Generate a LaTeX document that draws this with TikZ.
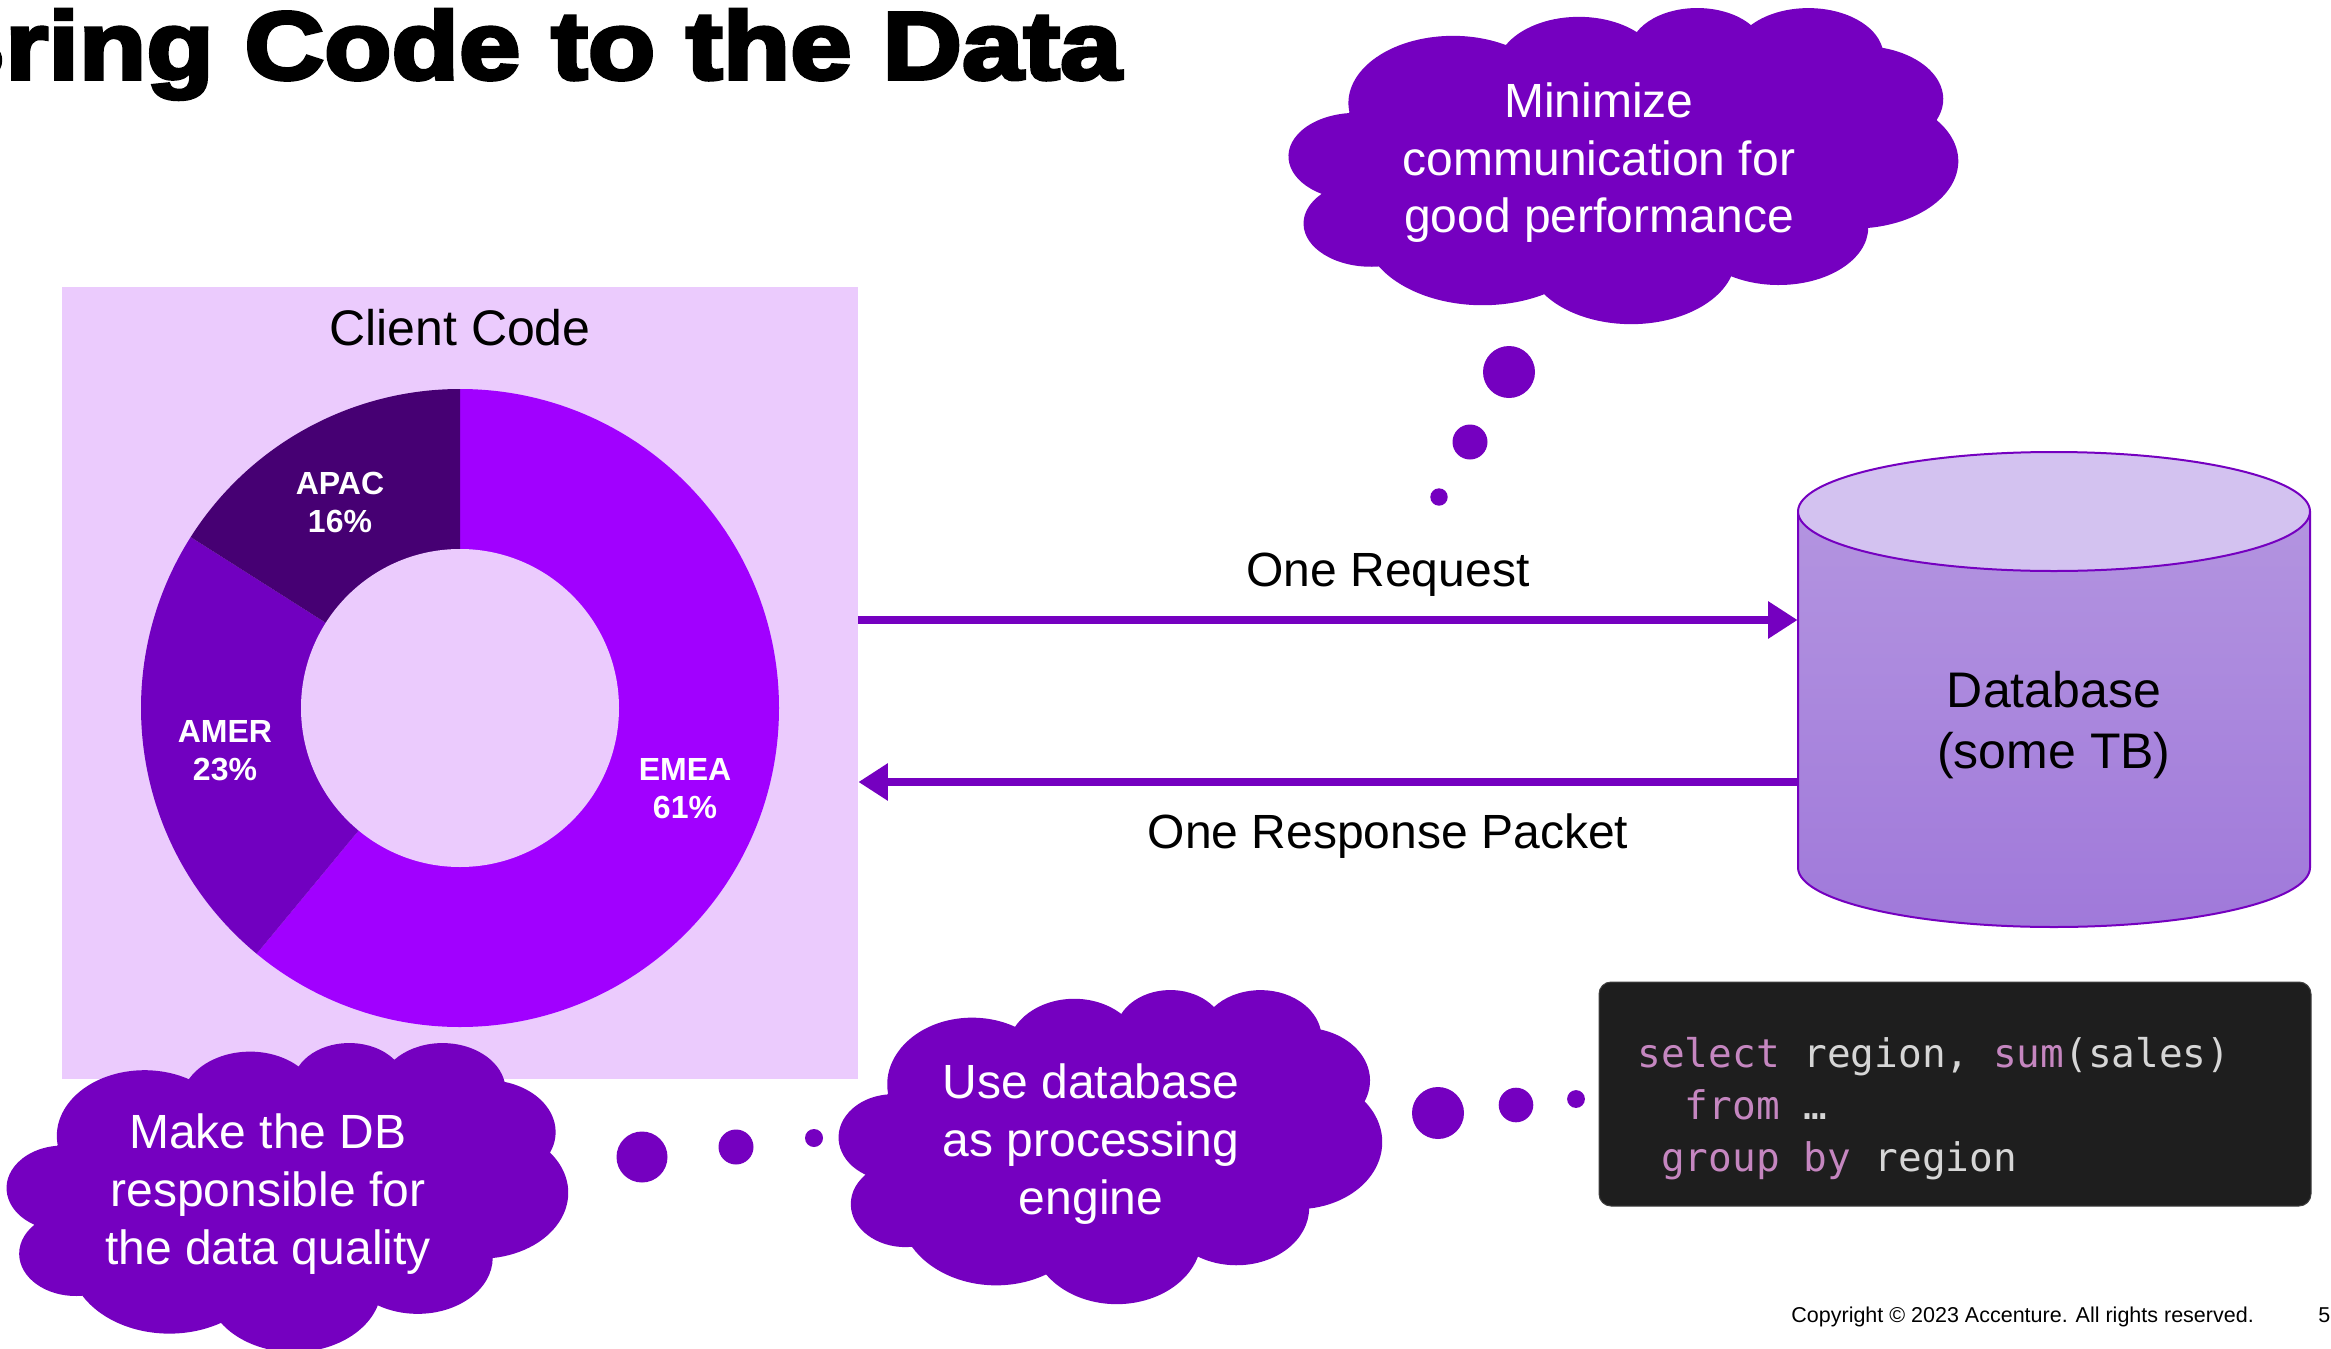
\documentclass[tikz,border=0pt]{standalone}
\usepackage{fontspec}
\setmainfont{Liberation Sans}
\newfontfamily\titlefont{Liberation Sans Bold}[FakeBold=4,FakeStretch=1.15]
\newfontfamily\codefont{DejaVu Sans Mono}
\usetikzlibrary{arrows.meta}
\definecolor{cloudcol}{HTML}{7500C0}
\definecolor{emea}{HTML}{A100FF}
\definecolor{amer}{HTML}{7100C0}
\definecolor{apac}{HTML}{460073}
\definecolor{boxbg}{HTML}{EBCBFD}
\definecolor{cyltop}{HTML}{D3C2F0}
\definecolor{cylhi}{HTML}{B394E0}
\definecolor{cyllo}{HTML}{A079DA}
\definecolor{codebg}{HTML}{1E1E1E}
\definecolor{codekw}{HTML}{C586C0}
\definecolor{codeplain}{HTML}{D6D6D6}
% PowerPoint cloud preset, arcs in a 43.2 x 43.2 grid (visual angles -> parametric)
\newcommand\defarc[5]{%
  \expandafter\pgfmathsetmacro\csname clT#1\endcsname{atan2(#2*sin(#4),#3*cos(#4))}%
  \expandafter\pgfmathsetmacro\csname clD#1\endcsname{mod(atan2(#2*sin(#5),#3*cos(#5))-\csname clT#1\endcsname+720,360)}}
\defarc{a}{6.753}{9.19}{-190.48749}{-66.70696}
\defarc{b}{5.333}{7.267}{-144.10238}{-54.15715}
\defarc{c}{4.365}{5.945}{-145.80792}{-46.0849}
\defarc{d}{4.857}{6.595}{-130.98607}{-13.74434}
\defarc{e}{5.333}{7.273}{-78.70888}{30.31804}
\defarc{f}{6.775}{9.22}{-46.26725}{84.00175}
\defarc{g}{5.785}{7.867}{0.62502}{114.65835}
\defarc{h}{6.752}{9.215}{22.4516}{137.62415}
\defarc{i}{7.72}{10.543}{66.24263}{141.95365}
\defarc{j}{4.36}{5.918}{-274.94208}{-128.20651}
\defarc{k}{4.345}{5.945}{-246.8285}{-94.30965}
\newcommand\drawcloud[4]{%
  \begin{scope}[shift={(#1,#2)},xscale=#3/43.2,yscale=#4/43.2]
    \fill[cloudcol] (3.9,14.37)
      arc[x radius=6.753,y radius=9.19,start angle=\clTa,delta angle=\clDa]
      arc[x radius=5.333,y radius=7.267,start angle=\clTb,delta angle=\clDb]
      arc[x radius=4.365,y radius=5.945,start angle=\clTc,delta angle=\clDc]
      arc[x radius=4.857,y radius=6.595,start angle=\clTd,delta angle=\clDd]
      arc[x radius=5.333,y radius=7.273,start angle=\clTe,delta angle=\clDe]
      arc[x radius=6.775,y radius=9.22,start angle=\clTf,delta angle=\clDf]
      arc[x radius=5.785,y radius=7.867,start angle=\clTg,delta angle=\clDg]
      arc[x radius=6.752,y radius=9.215,start angle=\clTh,delta angle=\clDh]
      arc[x radius=7.72,y radius=10.543,start angle=\clTi,delta angle=\clDi]
      arc[x radius=4.36,y radius=5.918,start angle=\clTj,delta angle=\clDj]
      arc[x radius=4.345,y radius=5.945,start angle=\clTk,delta angle=\clDk]
      -- cycle;
  \end{scope}}
\newcommand\mlines[1]{\begin{tabular}[t]{@{}c@{}}#1\end{tabular}}
\newcommand\kw[1]{\textcolor{codekw}{#1}}
\begin{document}
\begin{tikzpicture}[x=0.5pt,y=-0.5pt,
  cloudtext/.style={text=white,font=\fontsize{24}{29}\selectfont,anchor=base,inner sep=0},
  lbl/.style={text=black,font=\fontsize{24}{29}\selectfont,anchor=base,inner sep=0},
  pielabel/.style={text=white,font=\bfseries\fontsize{16}{19}\selectfont,anchor=base,inner sep=0},
  flow/.style={draw=cloudcol,line width=4.35pt,-{Triangle[length=14.7pt,width=17.7pt]}},
  dot/.style={fill=cloudcol}]
\useasboundingbox (0,0) rectangle (2331,1349);
\fill[white] (0,0) rectangle (2331,1349);

% title
\node[anchor=base east,inner sep=0,font=\titlefont\fontsize{48}{52}\selectfont] (title) at (1122,79) {Bring Code to the Data};

% client code box
\node[fill=boxbg,minimum width=398pt,minimum height=396pt,inner sep=0] (cc) at (460,683) {};
\node[lbl,font=\fontsize{25}{30}\selectfont] (cctitle) at (460,345) {Client Code};

% donut
\coordinate (pc) at (460,708);
\fill[emea] (pc) -- ++(-90:319) arc[start angle=-90,end angle=129.6,radius=319] -- cycle;
\fill[amer] (pc) -- ++(129.6:319) arc[start angle=129.6,end angle=212.4,radius=319] -- cycle;
\fill[apac] (pc) -- ++(212.4:319) arc[start angle=212.4,end angle=270,radius=319] -- cycle;
\fill[boxbg] (pc) circle[radius=159];
\node[pielabel] (lapac) at (340,494) {\mlines{APAC\\16\%}};
\node[pielabel] (lamer) at (225,742.6) {\mlines{AMER\\23\%}};
\node[pielabel] (lemea) at (685,780) {\mlines{EMEA\\61\%}};

% database cylinder
\fill[top color=cylhi,bottom color=cyllo] (1798,511.5) -- (1798,867.5)
  arc[start angle=180,end angle=0,x radius=256,y radius=59.5] -- (2310,511.5)
  arc[start angle=0,end angle=180,x radius=256,y radius=59.5] -- cycle;
\draw[cloudcol,line width=1pt] (1798,511.5) -- (1798,867.5)
  arc[start angle=180,end angle=0,x radius=256,y radius=59.5] -- (2310,511.5);
\filldraw[fill=cyltop,draw=cloudcol,line width=1pt] (2054,511.5) ellipse[x radius=256,y radius=59.5];
\node[minimum width=256pt,minimum height=237.5pt,inner sep=0] (db) at (2054,689.5) {};
\node[lbl,font=\fontsize{25}{30.5}\selectfont] (dbtext) at (2054,707) {\mlines{Database\\(some TB)}};

% arrows
\coordinate (ry1) at (0,620);
\coordinate (ry2) at (0,782);
\draw[flow] (cc.east |- ry1) -- (db.west |- ry1);
\draw[flow] (db.west |- ry2) -- (cc.east |- ry2);
\node[lbl] (lreq) at (1388,586) {One Request};
\node[lbl] (lresp) at (1388,848) {One Response Packet};

% clouds
\drawcloud{1289}{7}{669}{316}
\node[cloudtext] (c1) at (1599,117) {\mlines{Minimize\\communication for\\good performance}};
\drawcloud{7}{1042}{561}{309}
\node[cloudtext] (c2) at (268,1148) {\mlines{Make the DB\\responsible for\\the data quality}};
\drawcloud{839}{989}{543}{314}
\node[cloudtext] (c3) at (1091,1098) {\mlines{Use database\\as processing\\engine}};

% thought dots
\fill[dot] (1509,372) circle[radius=26];
\fill[dot] (1470,442) circle[radius=17.5];
\fill[dot] (1439,497) circle[radius=8.7];
\fill[dot] (642,1157) circle[radius=25.5];
\fill[dot] (736,1147) circle[radius=17.5];
\fill[dot] (814,1138) circle[radius=9];
\fill[dot] (1438,1113) circle[radius=26];
\fill[dot] (1516,1105) circle[radius=17.3];
\fill[dot] (1576,1099) circle[radius=8.9];

% code box
\node[fill=codebg,draw=codebg!85!white,line width=0.5pt,rounded corners=6pt,minimum width=356pt,minimum height=112pt,inner sep=0] (codebox) at (1955,1094) {};
\node[anchor=base west,inner sep=0,text=codeplain,font=\codefont\fontsize{19.7}{26}\selectfont] (code) at (1637,1067)
  {\begin{tabular}[t]{@{}l@{}}\kw{select} region, \kw{sum}(sales)\\\phantom{xx}\kw{from} …\\\phantom{x}\kw{group} \kw{by} region\end{tabular}};

% footer
\node[anchor=base west,inner sep=0,font=\fontsize{10.75}{13}\selectfont] (copy) at (1791,1322) {Copyright © 2023 Accenture. All rights reserved.};
\node[anchor=base west,inner sep=0,font=\fontsize{10.75}{13}\selectfont] (pagenum) at (2318,1322) {5};
\end{tikzpicture}
\end{document}
